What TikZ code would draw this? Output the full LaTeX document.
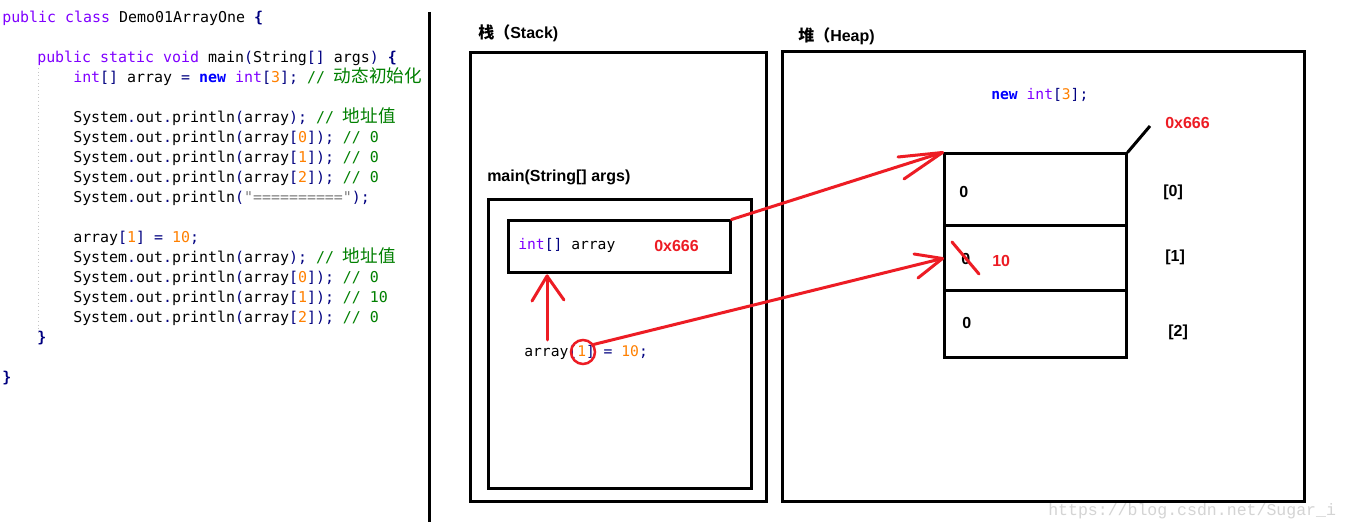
\documentclass[tikz,border=0pt]{standalone}
\usepackage{fontspec}
\setmainfont{Liberation Sans}
\newfontfamily\codefont{DejaVu Sans Mono}
\newfontfamily\cjkfont{Noto Sans CJK SC}
\newfontfamily\wmfont{Liberation Mono}
\newlength\px \setlength\px{0.75pt}
\definecolor{kwc}{HTML}{8000FF}
\definecolor{opc}{HTML}{000080}
\definecolor{newc}{HTML}{0000FF}
\definecolor{numc}{HTML}{FF8000}
\definecolor{cmc}{HTML}{008000}
\definecolor{strc}{HTML}{808080}
\definecolor{redc}{HTML}{ED1C24}
\definecolor{wmc}{HTML}{D4D4D4}
\newcommand\jkw[1]{\textcolor{kwc}{#1}}
\newcommand\jop[1]{\textcolor{opc}{#1}}
\newcommand\jbr[1]{\textcolor{opc}{\bfseries #1}}
\newcommand\jnew[1]{\textcolor{newc}{\bfseries #1}}
\newcommand\jnum[1]{\textcolor{numc}{#1}}
\newcommand\jcm[1]{\textcolor{cmc}{#1}}
\newcommand\jstr[1]{\textcolor{strc}{#1}}
\newcommand\jcjk[1]{{\cjkfont\fontsize{13.2}{13}\selectfont #1}}
\newcommand\sop{\jop{.}}
\tikzset{
  code/.style={anchor=base west, inner sep=0pt, font=\codefont\fontsize{11}{13}\selectfont},
  lcode/.style={code, font=\codefont\fontsize{11.2}{13}\selectfont},
  lbl/.style={anchor=base west, inner sep=0pt, font=\bfseries\fontsize{12}{14}\selectfont},
  frame/.style={draw=black, line width=3\px, inner sep=0pt},
  redline/.style={draw=redc, line width=3\px, line cap=round, line join=round},
}
\begin{document}
\begin{tikzpicture}[x=0.75pt, y=-0.75pt]
\useasboundingbox[fill=white] (0,0) rectangle (1350,530);

% ---------- code ----------
\draw[gray!45, dotted, line width=1\px] (38,68) -- (38,334);
\node[lcode] (l1) at (2,23) {\jkw{public class} Demo01ArrayOne \jbr{\{}};
\node[lcode] (l3) at (37,63) {\jkw{public static void} main\jop{(}String\jop{[]} args\jop{)} \jbr{\{}};
\node[lcode] (l4) at (73,83) {\jkw{int}\jop{[]} array \jop{=} \jnew{new} \jkw{int}\jop{[}\jnum{3}\jop{];} \jcm{// \jcjk{动态初始化}}};
\node[lcode] (l6) at (73,123) {System\sop out\sop println\jop{(}array\jop{);} \jcm{// \jcjk{地址值}}};
\node[lcode] (l7) at (73,143) {System\sop out\sop println\jop{(}array\jop{[}\jnum{0}\jop{]);} \jcm{// 0}};
\node[lcode] (l8) at (73,163) {System\sop out\sop println\jop{(}array\jop{[}\jnum{1}\jop{]);} \jcm{// 0}};
\node[lcode] (l9) at (73,183) {System\sop out\sop println\jop{(}array\jop{[}\jnum{2}\jop{]);} \jcm{// 0}};
\node[lcode] (l10) at (73,203) {System\sop out\sop println\jop{(}\jstr{"=========="}\jop{);}};
\node[lcode] (l12) at (73,243) {array\jop{[}\jnum{1}\jop{]} \jop{=} \jnum{10}\jop{;}};
\node[lcode] (l13) at (73,263) {System\sop out\sop println\jop{(}array\jop{);} \jcm{// \jcjk{地址值}}};
\node[lcode] (l14) at (73,283) {System\sop out\sop println\jop{(}array\jop{[}\jnum{0}\jop{]);} \jcm{// 0}};
\node[lcode] (l15) at (73,303) {System\sop out\sop println\jop{(}array\jop{[}\jnum{1}\jop{]);} \jcm{// 10}};
\node[lcode] (l16) at (73,323) {System\sop out\sop println\jop{(}array\jop{[}\jnum{2}\jop{]);} \jcm{// 0}};
\node[lcode] (l17) at (37,343) {\jbr{\}}};
\node[lcode] (l19) at (2,383) {\jbr{\}}};

% divider
\draw[line width=3\px] (429,12) -- (429,522);

% ---------- stack ----------
\node[lbl] (stackl) at (478,39) {{\cjkfont\bfseries 栈（}Stack)};
\node[frame, minimum width=296\px, minimum height=449\px] (stack) at (618,277.5) {};
\node[lbl] (mainl) at (487,181.5) {main(String[] args)};
\node[frame, minimum width=263\px, minimum height=289\px] (mainf) at (619.5,344.5) {};
\node[frame, minimum width=222\px, minimum height=52\px] (ibox) at (619,247) {};
\node[code] (intarr) at (518,250) {\jkw{int}\jop{[]} array};
\node[lbl, text=redc] (addr1) at (654,251.5) {0x666};
\node[code] (assign) at (524,357) {array\jop{[}\jnum{1}\jop{]} \jop{=} \jnum{10}\jop{;}};
\node[draw=redc, line width=2.5\px, circle, minimum size=24\px, inner sep=0pt] (circ) at (583,352) {};

% ---------- heap ----------
\node[lbl] (heapl) at (798,42) {{\cjkfont\bfseries 堆（}Heap)};
\node[frame, minimum width=522\px, minimum height=450\px] (heap) at (1043,277) {};
\node[code] (newl) at (991,100) {\jnew{new} \jkw{int}\jop{[}\jnum{3}\jop{];}};
\node[frame, minimum width=182\px, minimum height=72\px] (cell0) at (1035,190) {};
\node[frame, minimum width=182\px, minimum height=65\px] (cell1) at (1035,258.5) {};
\node[frame, minimum width=182\px, minimum height=67\px] (cell2) at (1035,324.5) {};
\node[lbl] (v0) at (959,197.5) {0};
\node[lbl] (v1) at (961,264.5) {0};
\node[lbl, text=redc] (v1n) at (992,266.5) {10};
\node[lbl] (v2) at (962,329) {0};
\node[lbl] (i0) at (1163,197) {[0]};
\node[lbl] (i1) at (1165,262) {[1]};
\node[lbl] (i2) at (1168,337) {[2]};
\node[lbl, text=redc] (addr2) at (1165,128.5) {0x666};
\coordinate (diagend) at (1150,126);
\draw[line width=3\px] (cell0.north east) -- (diagend);

% ---------- red connectors ----------
\coordinate (h1a) at (898,157);
\coordinate (h1b) at (904,179);
\draw[redline] (ibox.north east) -- (cell0.north west);
\draw[redline] (h1a) -- (cell0.north west);
\draw[redline] (h1b) -- (cell0.north west);

\coordinate (h2a) at (914,254);
\coordinate (h2b) at (918,278);
\draw[redline] (circ.35) -- (cell1.west);
\draw[redline] (h2a) -- (cell1.west);
\draw[redline] (h2b) -- (cell1.west);

\coordinate (upst) at (547,340);
\coordinate (uptip) at (547,276);
\coordinate (h3a) at (532,301);
\coordinate (h3b) at (564,300);
\draw[redline] (upst) -- (uptip);
\draw[redline] (h3a) -- (uptip) -- (h3b);

\coordinate (sa) at (952,242);
\coordinate (sb) at (979,274);
\draw[redline] (sa) -- (sb);

% watermark
\node[anchor=base west, inner sep=0pt, font=\wmfont\fontsize{12.4}{14}\selectfont, text=wmc] (wm) at (1048,516) {https://blog.csdn.net/Sugar\_i};
\end{tikzpicture}
\end{document}
